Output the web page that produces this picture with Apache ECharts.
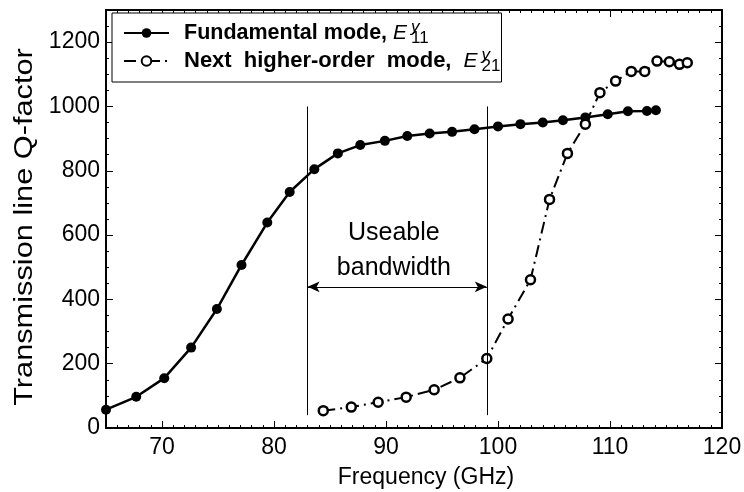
<!DOCTYPE html>
<html>
<head>
<meta charset="utf-8">
<script src="https://cdn.jsdelivr.net/npm/echarts@6/dist/echarts.min.js"></script>
<style>
  html, body { margin: 0; padding: 0; background: #fff; }
  #chart { width: 744px; height: 492px; }
</style>
</head>
<body>
<div id="chart"></div>
<script>
// Fundamental mode E11^y: frequency (GHz) and transmission-line Q-factor
const fundFreq = [65, 67.7, 70.2, 72.6, 74.9, 77.1, 79.4, 81.4, 83.6, 85.7, 87.7, 89.9, 91.9,
                  93.9, 95.9, 97.9, 100.0, 102.0, 104.0, 105.8, 107.8, 109.8, 111.6, 113.3, 114.1];
const fundQ    = [57, 97, 155, 250, 370, 507, 639, 734, 805, 854, 880, 893, 908,
                  916, 921, 929, 938, 945, 950, 957, 966, 976, 985, 986, 988];

// Next higher-order mode E21^y
const nextFreq = [84.4, 86.9, 89.3, 91.8, 94.3, 96.6, 99.0, 100.9, 102.9, 104.6, 106.2, 107.8,
                  109.1, 110.5, 111.9, 113.1, 114.2, 115.3, 116.2, 116.9];
const nextQ    = [54, 65, 80, 96, 119, 156, 216, 339, 461, 711, 854, 945,
                  1043, 1079, 1109, 1109, 1141, 1139, 1131, 1136];

// Axis tick labels
const xMajorTicks = [70, 80, 90, 100, 110, 120];
const yMajorTicks = [0, 200, 400, 600, 800, 1000, 1200];

// Useable bandwidth annotation (GHz limits, Q span of the limit lines, arrow level)
const bandEdges = [83, 99];
const bandLineSpan = [40, 1000];
const arrowQ = 439;
const bandLabelAt = [90.7, 552];

const FONT = '"Liberation Sans", Arial, Helvetica, sans-serif';
const BLACK = '#000';
const pairs = (xs, ys) => xs.map((x, i) => [x, ys[i]]);

const tickStyle = { color: BLACK, width: 1 };
const lineAxis = { onZero: false, lineStyle: { color: BLACK, width: 2 } };
const tickFont = { color: BLACK, fontSize: 23, fontFamily: FONT, formatter: v => String(v) };

const xBase = { type: 'value', min: 65, max: 120, interval: 1, splitLine: { show: false } };
const yBase = { type: 'value', min: 0, max: 1300, interval: 50, splitLine: { show: false } };

// one axis per side carries the line and the minor ticks, a twin carries the long major ticks
function minorAxis(base, position, extra) {
  return Object.assign({}, base, {
    position,
    axisLine: lineAxis,
    axisTick: { inside: true, length: 3, lineStyle: tickStyle },
    axisLabel: { show: false }
  }, extra || {});
}
function majorAxis(base, position, values) {
  return Object.assign({}, base, {
    position,
    axisLine: { show: false, onZero: false },
    axisTick: { inside: true, length: 7, customValues: values, lineStyle: tickStyle },
    axisLabel: { show: false }
  });
}

// legend rows: bold caption, italic E with stacked superscript y and subscript mode index
const LINE_H = 28;
const legendRich = {
  b: { fontSize: 21.5, fontWeight: 'bold', fontFamily: FONT, color: BLACK, lineHeight: LINE_H },
  w: { fontSize: 22, fontWeight: 'bold', fontFamily: FONT, color: BLACK, lineHeight: LINE_H,
       padding: [0, 6, 0, 0] },
  e: { fontSize: 21, fontStyle: 'italic', fontFamily: FONT, color: BLACK, lineHeight: LINE_H },
  sp: { fontSize: 17, fontStyle: 'italic', fontFamily: FONT, color: BLACK, width: 0,
        padding: [0, 0, 0, 4], lineHeight: 5, verticalAlign: 'top' },
  sb: { fontSize: 17, fontFamily: FONT, color: BLACK, lineHeight: 15, verticalAlign: 'bottom' }
};

const chart = echarts.init(document.getElementById('chart'), null, { renderer: 'canvas' });

chart.setOption({
  animation: false,
  backgroundColor: '#fff',
  grid: { left: 106, right: 22, top: 10, bottom: 64, containLabel: false, outerBoundsMode: 'none' },
  legend: {
    data: ['E11', 'E21'],
    orient: 'vertical',
    left: 112,
    top: 13,
    padding: [6, 1, 7, 11],
    itemGap: 0,
    itemWidth: 45,
    itemHeight: 12,
    borderColor: BLACK,
    borderWidth: 1,
    backgroundColor: '#fff',
    selectedMode: false,
    formatter: name => name === 'E11'
      ? '{b|Fundamental mode, }{e|E}{sp|y}{sb|11}'
      : '{w|Next }{w|higher-order }{w|mode, }{e|E}{sp|y}{sb|21}',
    textStyle: { padding: [0, 0, 0, 10], rich: legendRich }
  },
  xAxis: [
    minorAxis(xBase, 'bottom', {
      axisLabel: Object.assign({ customValues: xMajorTicks, margin: 8 }, tickFont),
      name: 'Frequency (GHz)',
      nameLocation: 'middle',
      nameGap: 38,
      nameTextStyle: { color: BLACK, fontSize: 23, fontFamily: FONT, padding: [0, 0, 0, 24] }
    }),
    majorAxis(xBase, 'bottom', xMajorTicks),
    minorAxis(xBase, 'top'),
    majorAxis(xBase, 'top', xMajorTicks)
  ],
  yAxis: [
    minorAxis(yBase, 'left', {
      axisLabel: Object.assign({ customValues: yMajorTicks, margin: 6 }, tickFont)
    }),
    majorAxis(yBase, 'left', yMajorTicks),
    minorAxis(yBase, 'right'),
    majorAxis(yBase, 'right', yMajorTicks)
  ],
  graphic: [{
    type: 'text',
    x: 25,
    y: 227,
    rotation: Math.PI / 2,
    scaleX: 1.23,
    silent: true,
    style: {
      text: 'Transmission line Q-factor',
      font: '25px ' + FONT,
      fill: BLACK,
      align: 'center',
      verticalAlign: 'middle'
    }
  }],
  series: [
    {
      name: 'band',
      type: 'line',
      data: [],
      silent: true,
      markLine: {
        silent: true,
        animation: false,
        symbol: ['none', 'none'],
        label: { show: false },
        lineStyle: { color: BLACK, width: 1, type: 'solid' },
        data: bandEdges.map(f => [{ coord: [f, bandLineSpan[0]] }, { coord: [f, bandLineSpan[1]] }])
          .concat([[
            { coord: [bandEdges[0], arrowQ], symbol: 'arrow', symbolSize: [8, 12] },
            { coord: [bandEdges[1], arrowQ], symbol: 'arrow', symbolSize: [8, 12] }
          ]])
      },
      markPoint: {
        silent: true,
        animation: false,
        symbol: 'circle',
        symbolSize: 0,
        label: {
          show: true,
          position: 'inside',
          formatter: 'Useable\nbandwidth',
          color: BLACK,
          fontSize: 25,
          lineHeight: 35,
          fontFamily: FONT
        },
        data: [{ coord: bandLabelAt }]
      }
    },
    {
      name: 'E11',
      type: 'line',
      data: pairs(fundFreq, fundQ),
      symbol: 'circle',
      symbolSize: 10,
      itemStyle: { color: BLACK },
      lineStyle: { color: BLACK, width: 2.5 },
      z: 3
    },
    {
      name: 'E21',
      type: 'line',
      data: pairs(nextFreq, nextQ),
      symbol: 'circle',
      symbolSize: 9,
      itemStyle: { color: '#fff', borderColor: BLACK, borderWidth: 2.5 },
      lineStyle: { color: BLACK, width: 2, type: [12, 5, 2, 5] },
      z: 4
    }
  ]
});
</script>
</body>
</html>
